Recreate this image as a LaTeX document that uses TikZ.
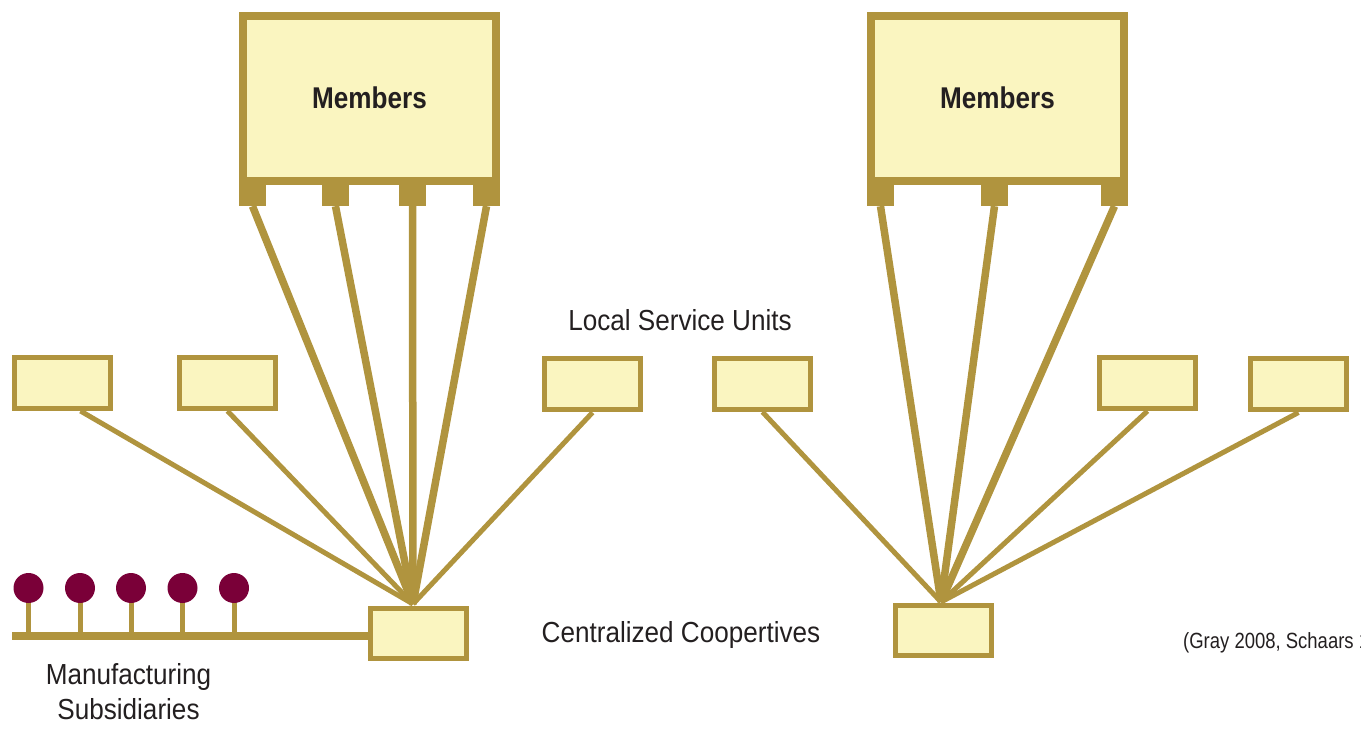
\documentclass[tikz,border=0pt]{standalone}
\usepackage{fontspec}
\newfontfamily\cond{Liberation Sans}[FakeStretch=0.9]
\newfontfamily\condn{Liberation Sans}[FakeStretch=0.84]
\newfontfamily\condb{Liberation Sans Bold}[FakeStretch=0.87]
\definecolor{gold}{RGB}{176,148,62}
\definecolor{pale}{RGB}{250,245,192}
\definecolor{maroon}{RGB}{122,0,56}
\definecolor{ink}{RGB}{35,31,32}
\tikzset{
  membox/.style={draw=gold, fill=pale, line width=8pt, minimum width=253pt, minimum height=165pt, inner sep=0pt, font=\condb\fontsize{30}{34}\selectfont, text=ink},
  tabbox/.style={fill=gold, minimum width=27pt, minimum height=25pt, inner sep=0pt},
  unitbox/.style={draw=gold, fill=pale, line width=5pt, minimum width=96pt, minimum height=51pt, inner sep=0pt},
  memline/.style={draw=gold, line width=7.5pt},
  unitline/.style={draw=gold, line width=5pt},
  lbl/.style={font=\cond\fontsize{29}{36}\selectfont, text=ink, inner sep=0pt, align=center},
  sub/.style={circle, fill=maroon, minimum size=30pt, inner sep=0pt},
}
\begin{document}
\begin{tikzpicture}[x=1pt, y=-1pt]
\useasboundingbox (0,0) rectangle (1361,735);
\coordinate (apexL) at (413,604);
\coordinate (apexR) at (941,602);
% Left group
\node[tabbox] (lt1) at (252.5,193.5) {};
\node[tabbox] (lt2) at (335.5,193.5) {};
\node[tabbox] (lt3) at (412.5,193.5) {};
\node[tabbox] (lt4) at (486.5,193.5) {};
\node[membox] (lm) at (369.5,98.5) {\raisebox{2pt}{Members}};
\node[unitbox] (u1) at (62.5,383) {};
\node[unitbox] (u2) at (227.5,383) {};
\node[unitbox] (u3) at (592.5,384.5) {};
\node[unitbox] (u4) at (762.5,384) {};
\node[unitbox] (u5) at (1147.5,383) {};
\node[unitbox] (u6) at (1298.5,384.5) {};
\node[unitbox, minimum height=50pt] (cl) at (418.5,633.5) {};
\node[unitbox, minimum height=50pt] (cr) at (943.5,630.5) {};
% Right group
\node[tabbox] (rt1) at (880.5,193.5) {};
\node[tabbox] (rt2) at (994.5,193.5) {};
\node[tabbox] (rt3) at (1114.5,193.5) {};
\node[membox] (rm) at (997.5,98.5) {\raisebox{2pt}{Members}};
% connectors to left centre
\foreach \t in {lt1,lt2,lt3,lt4} \draw[memline] (\t.south) -- (apexL);
\draw[unitline] ([xshift=18pt]u1.south) -- (apexL);
\draw[unitline] (u2.south) -- (apexL);
\draw[unitline] (u3.south) -- (apexL);
% connectors to right centre
\foreach \t in {rt1,rt2,rt3} \draw[memline] (\t.south) -- (apexR);
\draw[unitline] (u4.south) -- (apexR);
\draw[unitline] (u5.south) -- (apexR);
\draw[unitline] (u6.south) -- (apexR);
% manufacturing subsidiaries
\coordinate (barstart) at (12,636);
\draw[gold, line width=8pt] (barstart) -- (cl.west |- barstart);
\foreach \i/\x in {1/28.5,2/80,3/131,4/182.5,5/234} {
  \coordinate (b\i) at (\x,636);
  \draw[gold, line width=5pt] (\x,588) -- (b\i);
  \node[sub] (s\i) at (\x,588) {};
}
% labels
\node[lbl] (lsu) at (680,320) {Local Service Units};
\node[lbl] (cc) at (681,635) {Centralized Coopertives};
\node[lbl] (ms) at (128.5,692) {Manufacturing\\[-1pt]Subsidiaries};
\begin{scope}
\clip (0,0) rectangle (1361,735);
\node[font=\condn\fontsize{22}{24}\selectfont, text=ink, anchor=west, inner sep=0pt] (cite) at (1183,643) {(Gray 2008, Schaars 1};
\end{scope}
\end{tikzpicture}
\end{document}
